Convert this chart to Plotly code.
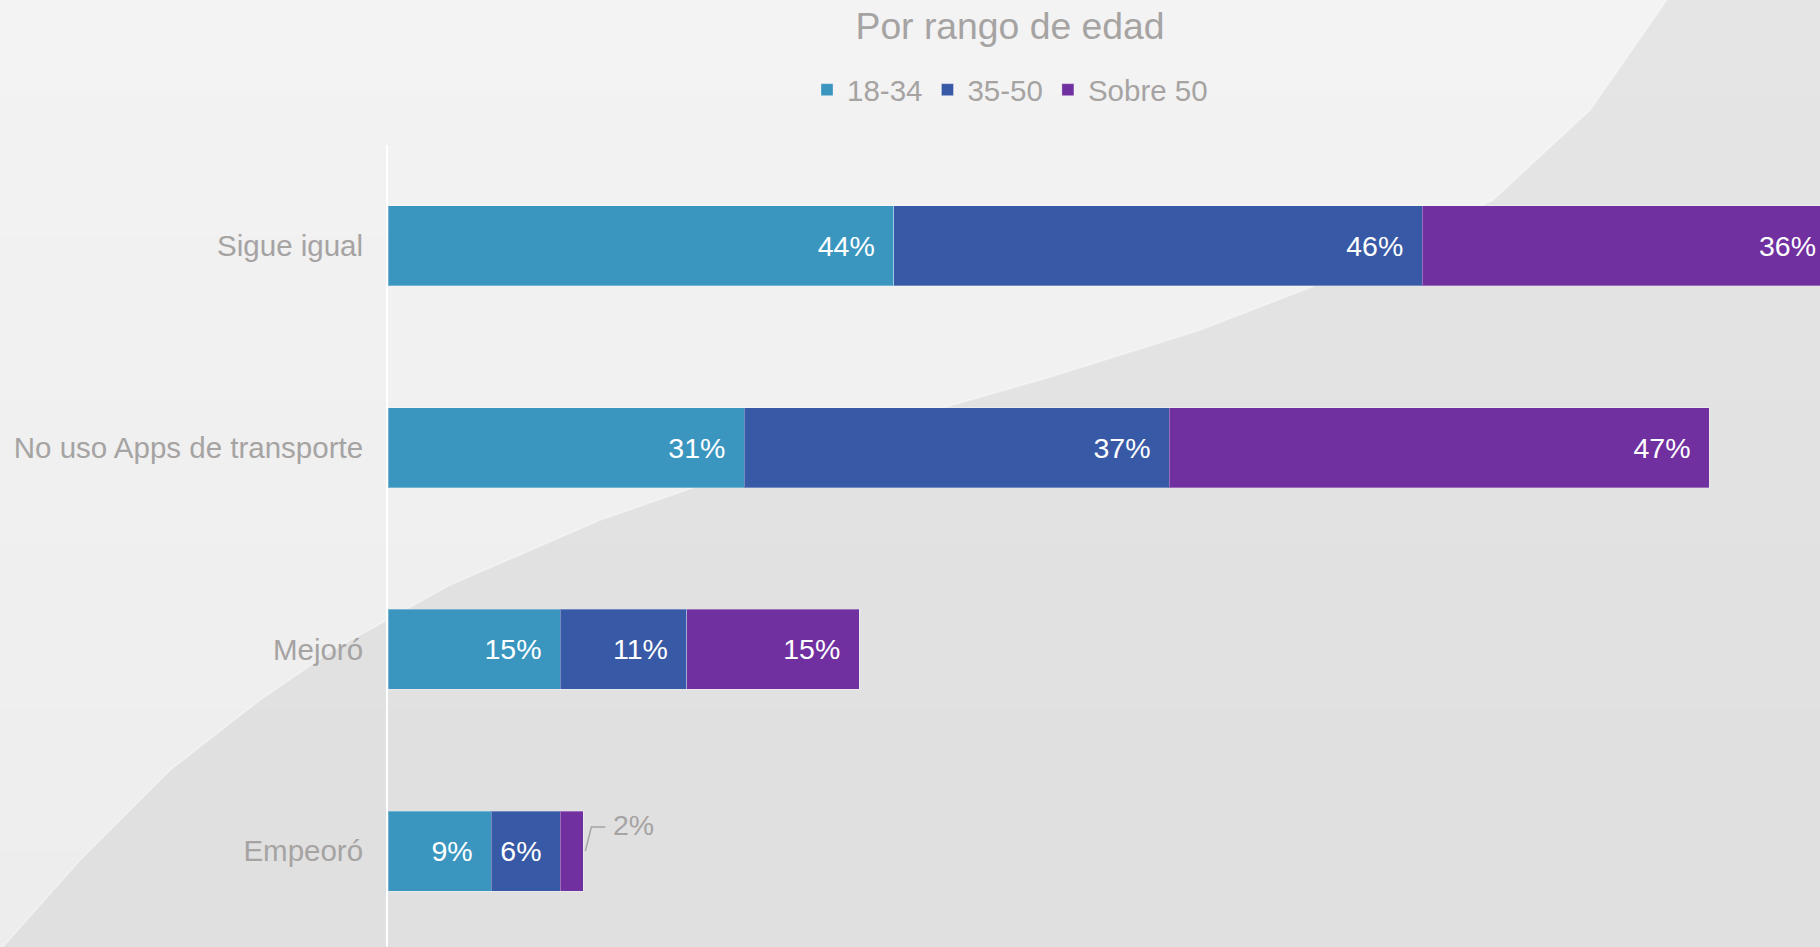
import plotly.graph_objects as go

# ---- data ----
categories = ["Sigue igual", "No uso Apps de transporte", "Mejoró", "Empeoró"]
series_names = ["18-34", "35-50", "Sobre 50"]
v_18_34 = [44, 31, 15, 9]
v_35_50 = [46, 37, 11, 6]
v_sobre50 = [36, 47, 15, 2]
colors = ["#3A96BF", "#3859A6", "#70309F"]

W, H = 1820, 947
L, T = 388, 145
PX_PER_PCT = 11.49
xmax = (W - L) / PX_PER_PCT

GRAY = "#A6A3A3"
FONT = "Liberation Sans, Arial, sans-serif"
NB = "\u00a0\u00a0"
LABEL_SIZE = 28.5

fig = go.Figure()
annotations = []
shapes = []

series = [v_18_34, v_35_50, v_sobre50]
outside_small = []  # (category index, cumulative end, value)
cum = [0] * len(categories)
for name, vals, col in zip(series_names, series, colors):
    texts = []
    for i, v in enumerate(vals):
        end = cum[i] + v
        if v < 4:
            texts.append("")
            outside_small.append((i, end, v))
        elif end > xmax:
            # bar runs past the canvas edge: place its label at the visible end
            texts.append("")
            annotations.append(dict(x=xmax, y=categories[i], xref="x", yref="y",
                                    text=f"{v}%", showarrow=False, xanchor="right",
                                    yanchor="middle", borderpad=0,
                                    xshift=(end - xmax) * PX_PER_PCT - 19,
                                    font=dict(color="white", size=LABEL_SIZE, family=FONT)))
        else:
            texts.append(f"{v}%{NB}")
    fig.add_trace(go.Bar(
        name=name, y=categories, x=vals, orientation="h",
        marker=dict(color=col, line=dict(color="rgba(255,255,255,0.3)", width=1)),
        text=texts, textposition="inside", insidetextanchor="end",
        textfont=dict(color="white", size=LABEL_SIZE, family=FONT),
        textangle=0, cliponaxis=True, hoverinfo="skip",
    ))
    cum = [c + v for c, v in zip(cum, vals)]


def px2paper(px, py):
    return ((px - L) / (W - L), 1 - (py - T) / (H - T))


# background: soft vertical gradient bands
nb = 40
top = (243, 243, 243)
bot = (237, 237, 237)
for k in range(nb):
    f = k / (nb - 1)
    c = tuple(int(round(top[j] + (bot[j] - top[j]) * f)) for j in range(3))
    x0, y1 = px2paper(-5, k * H / nb - 1)
    x1, y0 = px2paper(W + 5, (k + 1) * H / nb + 1)
    shapes.append(dict(type="rect", xref="paper", yref="paper",
                       x0=x0, x1=x1, y0=y0, y1=y1,
                       fillcolor=f"rgb{c}", line=dict(width=0), layer="below"))

# darker swoosh region below a curve
curve = [(0, 950), (80, 860), (170, 770), (260, 700), (333, 650), (450, 585), (600, 520),
         (750, 468), (900, 420), (1050, 377), (1200, 330), (1350, 272), (1493, 200),
         (1590, 110), (1670, -5)]
poly = curve + [(1830, -5), (1830, 960), (0, 960)]
path = ""
for i, (px, py) in enumerate(poly):
    x, y = px2paper(px, py)
    path += ("M" if i == 0 else "L") + f"{x:.4f},{y:.4f} "
path += "Z"
shapes.append(dict(type="path", xref="paper", yref="paper", path=path,
                   fillcolor="rgba(0,0,0,0.055)", line=dict(width=0), layer="below"))
hpath = ""
for i, (px, py) in enumerate(curve):
    x, y = px2paper(px, py)
    hpath += ("M" if i == 0 else "L") + f"{x:.4f},{y:.4f} "
shapes.append(dict(type="path", xref="paper", yref="paper", path=hpath,
                   line=dict(color="rgba(255,255,255,0.35)", width=2), layer="below"))

# leader line + label for small outside value
for (i, xend, v) in outside_small:
    shapes.append(dict(type="path", xref="x", yref="y", xsizemode="pixel", ysizemode="pixel",
                       xanchor=xend, yanchor=i,
                       path="M2,0 L8,24 L22,24",
                       line=dict(color="#A6A3A3", width=1.5)))
    annotations.append(dict(x=xend, y=categories[i], xref="x", yref="y",
                            text=f"{v}%", showarrow=False, xanchor="left", yanchor="middle",
                            xshift=28, yshift=26,
                            font=dict(color=GRAY, size=LABEL_SIZE, family=FONT)))

fig.update_layout(
    width=W, height=H,
    margin=dict(l=L, r=0, t=T, b=0, pad=0),
    paper_bgcolor="#F0F0F0", plot_bgcolor="rgba(0,0,0,0)",
    barmode="stack", bargap=0.604,
    showlegend=True,
    title=dict(text="Por rango de edad", x=1010 / W, xanchor="center",
               y=1 - 26 / H, yanchor="middle",
               font=dict(size=37.3, color=GRAY, family=FONT)),
    legend=dict(orientation="h", x=(1010 - L) / (W - L), xanchor="center",
                y=1 + (T - 90) / (H - T), yanchor="middle",
                font=dict(size=29.5, color=GRAY, family=FONT),
                bgcolor="rgba(0,0,0,0)", traceorder="normal"),
    xaxis=dict(range=[0, xmax], showgrid=False, zeroline=False, showticklabels=False,
               showline=False, fixedrange=True),
    yaxis=dict(categoryorder="array", categoryarray=categories,
               range=[3.5 - 5 / 202, -0.5], showgrid=False, zeroline=False,
               showline=True, linecolor="white", linewidth=2,
               ticks="outside", ticklen=17, tickcolor="rgba(0,0,0,0)",
               tickfont=dict(size=29.5, color=GRAY, family=FONT)),
    shapes=shapes, annotations=annotations,
)

fig.write_html("out.html", config={"displayModeBar": False},
               post_script="document.body.style.margin='0';document.body.style.overflow='hidden';")
